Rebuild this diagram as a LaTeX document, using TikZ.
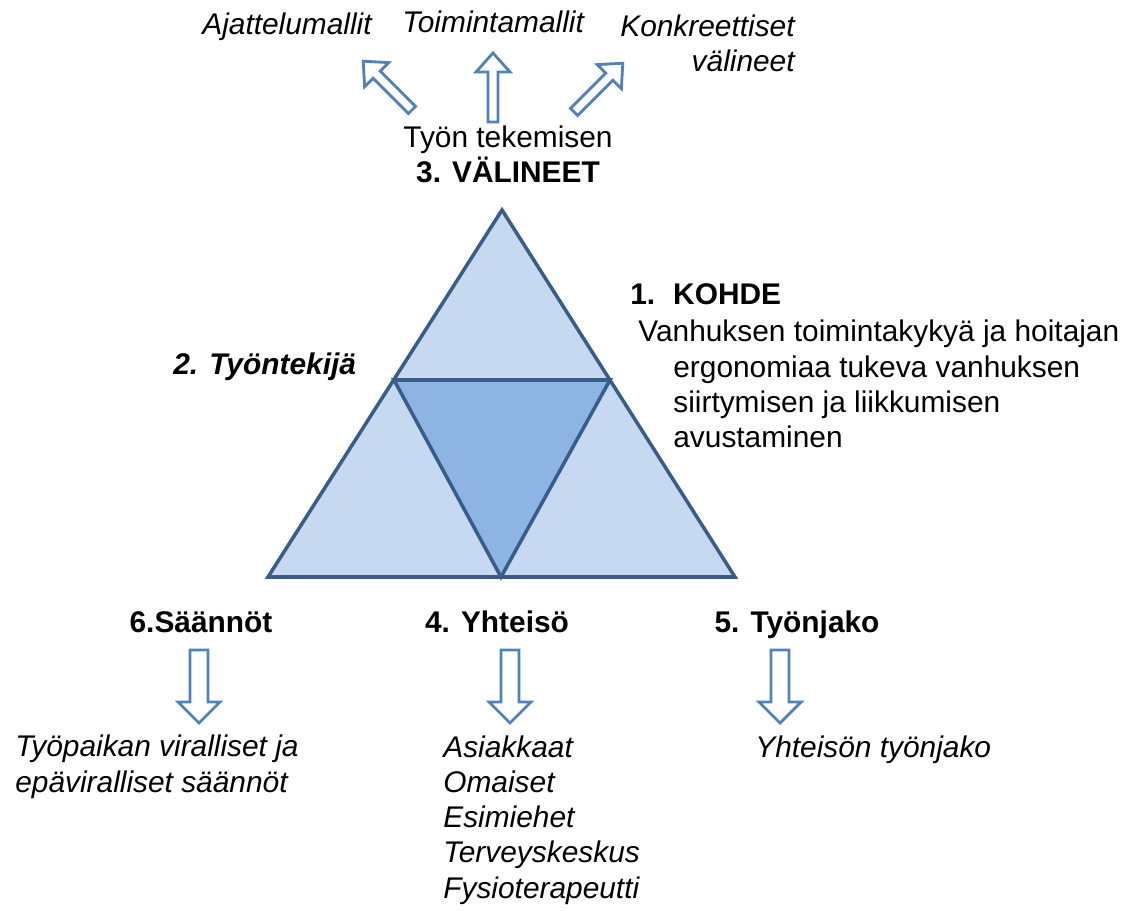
\documentclass[tikz,border=0pt]{standalone}
\usepackage{fontspec}
\setmainfont{Liberation Sans}
\newcommand{\perusfontti}{\fontsize{17pt}{20.1pt}\selectfont}
\definecolor{TriFill}{RGB}{198,217,241}
\definecolor{TriDark}{RGB}{142,180,227}
\definecolor{TriEdge}{RGB}{56,93,138}
\definecolor{ArrowCol}{RGB}{79,129,189}
\tikzstyle{teksti} = [inner sep=0pt, anchor=base west, align=left, font=\perusfontti]
\tikzstyle{kursiivi} = [inner sep=0pt, anchor=base west, align=left, font=\perusfontti\itshape]
\tikzstyle{otsikko} = [inner sep=0pt, anchor=base, font=\perusfontti\bfseries]
\tikzstyle{kolmio} = [draw=TriEdge, line width=2pt, line join=miter]
\tikzstyle{nuolireuna} = [draw=ArrowCol, line width=1.6pt, fill=white, line join=miter]
\tikzset{
  ylosnuoli/.pic={\draw[nuolireuna] (-5,0) -- (-5,-50) -- (-17,-50) -- (0,-69) -- (17,-50) -- (5,-50) -- (5,0) -- cycle;},
  alasnuoli/.pic={\draw[nuolireuna] (-9,0) -- (-9,52) -- (-21,52) -- (0,73) -- (21,52) -- (9,52) -- (9,0) -- cycle;}
}

\begin{document}
\begin{tikzpicture}[x=0.02cm, y=-0.02cm]
\useasboundingbox (0,0) rectangle (1125,911);

% kolmio
\coordinate (karki) at (502,210);
\coordinate (vasen) at (268,577);
\coordinate (oikea) at (735,577);
\coordinate (vasenkeski) at (394,380);
\coordinate (oikeakeski) at (610,380);
\coordinate (alakeski) at (501,577);
\draw[kolmio, fill=TriFill] (karki) -- (vasen) -- (oikea) -- cycle;
\draw[kolmio, fill=TriDark] (vasenkeski) -- (oikeakeski) -- (alakeski) -- cycle;

% 3. valineet
\node[kursiivi] (ajattelu) at (202,35) {Ajattelumallit};
\node[kursiivi] (toiminta) at (402,33) {Toimintamallit};
\node[kursiivi, anchor=base east, align=right] (konkreettiset) at (795,72) {Konkreettiset\\välineet};
\node[teksti, anchor=base, align=center, font=\fontsize{17pt}{20.4pt}\selectfont] (valineet) at (508,183) {Työn tekemisen\\\textbf{3. VÄLINEET}};
\pic[rotate=45] at (412,110) {ylosnuoli};
\pic at (493,122) {ylosnuoli};
\pic[rotate=-45] at (574,112) {ylosnuoli};

% 2. ja 1.
\node[otsikko, anchor=base west, font=\perusfontti\bfseries\itshape] (tyontekija) at (173,375) {2. Työntekijä};
\node[otsikko, anchor=base west] (kohde) at (630,305) {\makebox[24.4pt][l]{1.}KOHDE};
\node[teksti] (kohde1) at (638,342) {Vanhuksen toimintakykyä ja hoitajan};
\node[teksti] (kohde2) at (673,448) {ergonomiaa tukeva vanhuksen\\siirtymisen ja liikkumisen\\avustaminen};

% alarivi
\node[otsikko] (saannot) at (201,632) {6.Säännöt};
\node[otsikko] (yhteiso) at (497,632) {4. Yhteisö};
\node[otsikko] (tyonjako) at (797,632) {5. Työnjako};
\pic at (199,650) {alasnuoli};
\pic at (510,650) {alasnuoli};
\pic at (780,650) {alasnuoli};
\node[kursiivi] (saannotteksti) at (15,792) {Työpaikan viralliset ja\\epäviralliset säännöt};
\node[kursiivi, font=\fontsize{17pt}{20pt}\selectfont\itshape] (yhteisolista) at (443,898) {Asiakkaat\\Omaiset\\Esimiehet\\Terveyskeskus\\Fysioterapeutti};
\node[kursiivi] (tyonjakoteksti) at (755,757) {Yhteisön työnjako};

\end{tikzpicture}
\end{document}
